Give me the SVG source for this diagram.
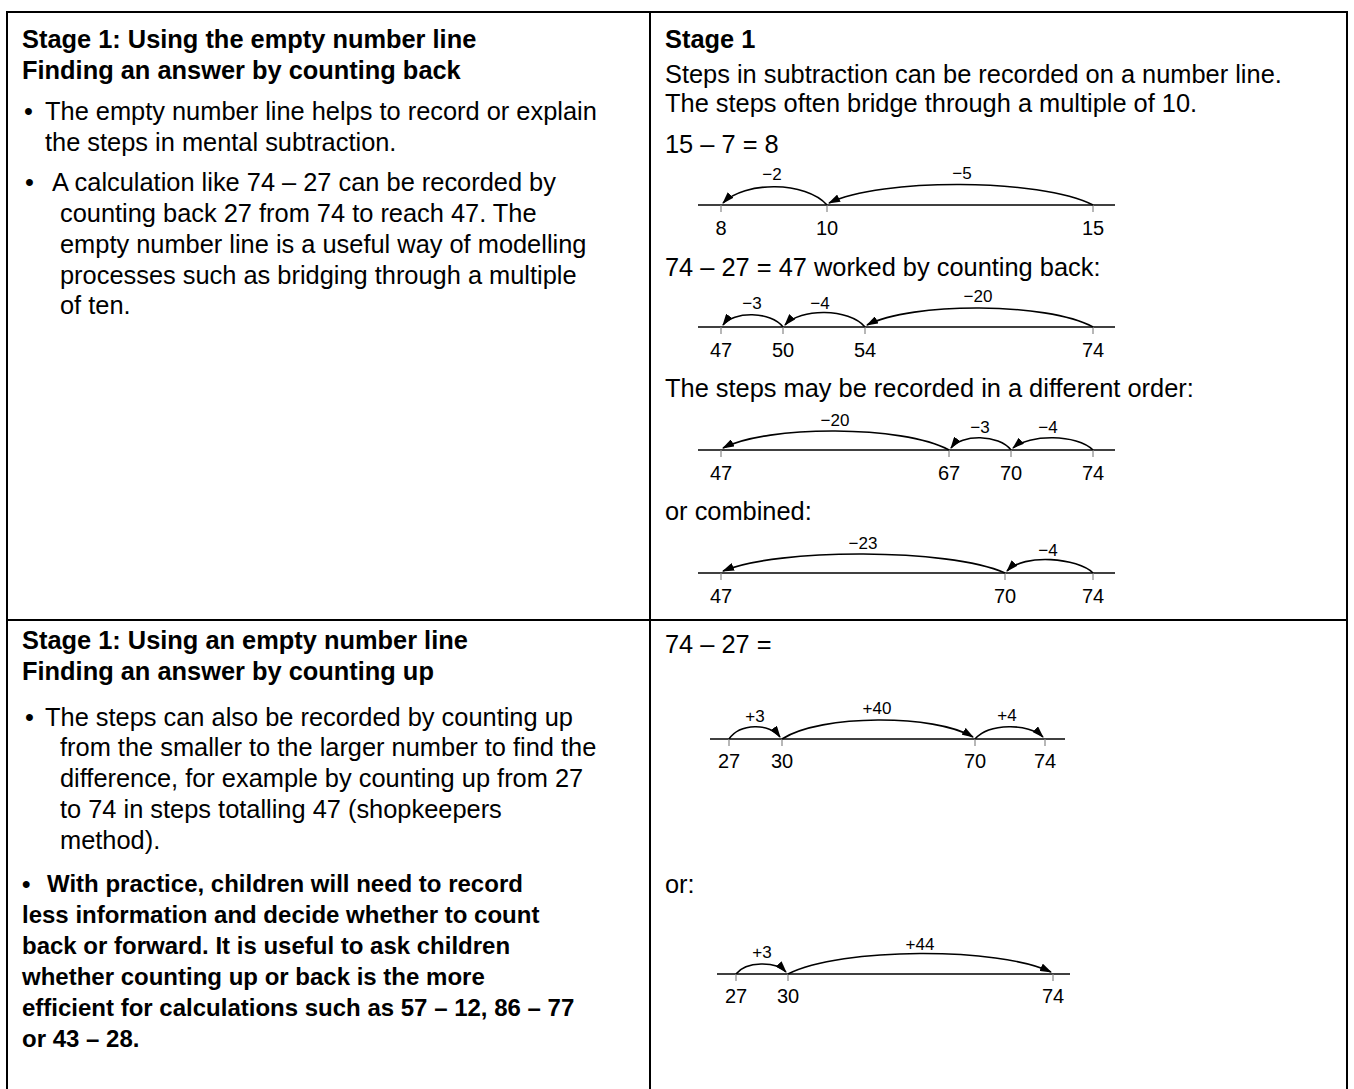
<svg xmlns="http://www.w3.org/2000/svg" width="1354" height="1089" viewBox="0 0 1354 1089">
<defs>
<style>
.t{font-family:"Liberation Sans",Arial,sans-serif;font-size:25.4px;fill:#000}
.b{font-weight:bold}
.bs{font-size:24px}
.n{font-family:"Liberation Sans",Arial,sans-serif;font-size:20px;fill:#000;text-anchor:middle}
.l{font-family:"Liberation Sans",Arial,sans-serif;font-size:17px;fill:#000;text-anchor:middle}
.ax{stroke:#000;stroke-width:1.5;fill:none}
.tk{stroke:#888;stroke-width:1.2}
.arc{stroke:#000;stroke-width:1.6;fill:none;marker-end:url(#ah)}
.bd{stroke:#000;stroke-width:2;fill:none}
</style>
<marker id="ah" markerUnits="userSpaceOnUse" markerWidth="12" markerHeight="8" refX="11" refY="4" orient="auto">
<path d="M0,0 L12,4 L0,8 z" fill="#000"/>
</marker>
</defs>
<rect width="1354" height="1089" fill="#fff"/>
<g id="table">
<path class="bd" d="M7,1089 V12 H1347 V1089 M650,12 V1089 M7,620 H1347"/>
</g>
<g id="cell-top-left">
<text class="t b" x="22" y="48">Stage 1: Using the empty number line</text>
<text class="t b" x="22" y="79">Finding an answer by counting back</text>
<text class="t" x="24" y="120">•</text>
<text class="t" x="45" y="120">The empty number line helps to record or explain</text>
<text class="t" x="45" y="151">the steps in mental subtraction.</text>
<text class="t" x="25" y="191">•</text>
<text class="t" x="52" y="191">A calculation like 74 – 27 can be recorded by</text>
<text class="t" x="60" y="222">counting back 27 from 74 to reach 47. The</text>
<text class="t" x="60" y="253">empty number line is a useful way of modelling</text>
<text class="t" x="60" y="284">processes such as bridging through a multiple</text>
<text class="t" x="60" y="314">of ten.</text>
</g>
<g id="cell-top-right">
<text class="t b" x="665" y="48">Stage 1</text>
<text class="t" x="665" y="83">Steps in subtraction can be recorded on a number line.</text>
<text class="t" x="665" y="112">The steps often bridge through a multiple of 10.</text>
<text class="t" x="665" y="153">15 – 7 = 8</text>
<text class="t" x="665" y="276">74 – 27 = 47 worked by counting back:</text>
<text class="t" x="665" y="397">The steps may be recorded in a different order:</text>
<text class="t" x="665" y="520">or combined:</text>
</g>
<g id="cell-bottom-left">
<text class="t b" x="22" y="649">Stage 1: Using an empty number line</text>
<text class="t b" x="22" y="680">Finding an answer by counting up</text>
<text class="t" x="25" y="726">•</text>
<text class="t" x="45" y="726">The steps can also be recorded by counting up</text>
<text class="t" x="60" y="756">from the smaller to the larger number to find the</text>
<text class="t" x="60" y="787">difference, for example by counting up from 27</text>
<text class="t" x="60" y="818">to 74 in steps totalling 47 (shopkeepers</text>
<text class="t" x="60" y="849">method).</text>
<text class="t b bs" x="22" y="892">•</text>
<text class="t b bs" x="47" y="892">With practice, children will need to record</text>
<text class="t b bs" x="22" y="923">less information and decide whether to count</text>
<text class="t b bs" x="22" y="954">back or forward. It is useful to ask children</text>
<text class="t b bs" x="22" y="985">whether counting up or back is the more</text>
<text class="t b bs" x="22" y="1016">efficient for calculations such as 57 – 12, 86 – 77</text>
<text class="t b bs" x="22" y="1047">or 43 – 28.</text>
</g>
<g id="cell-bottom-right">
<text class="t" x="665" y="653">74 – 27 =</text>
<text class="t" x="665" y="893">or:</text>
</g>
<g id="numberline-1">
<path class="ax" d="M698,205 H1115"/>
<path class="tk" d="M721,205 v7 M827,205 v7 M1093,205 v7"/>
<text class="n" x="721" y="235">8</text>
<text class="n" x="827" y="235">10</text>
<text class="n" x="1093" y="235">15</text>
<text class="l" x="772" y="180">−2</text>
<text class="l" x="962" y="179">−5</text>
</g>
<g id="numberline-2">
<path class="ax" d="M698,327 H1115"/>
<path class="tk" d="M721,327 v7 M783,327 v7 M865,327 v7 M1093,327 v7"/>
<text class="n" x="721" y="357">47</text>
<text class="n" x="783" y="357">50</text>
<text class="n" x="865" y="357">54</text>
<text class="n" x="1093" y="357">74</text>
<text class="l" x="752" y="309">−3</text>
<text class="l" x="820" y="309">−4</text>
<text class="l" x="978" y="302">−20</text>
</g>
<g id="numberline-3">
<path class="ax" d="M698,450 H1115"/>
<path class="tk" d="M721,450 v7 M949,450 v7 M1011,450 v7 M1093,450 v7"/>
<text class="n" x="721" y="480">47</text>
<text class="n" x="949" y="480">67</text>
<text class="n" x="1011" y="480">70</text>
<text class="n" x="1093" y="480">74</text>
<text class="l" x="835" y="426">−20</text>
<text class="l" x="980" y="433">−3</text>
<text class="l" x="1048" y="433">−4</text>
</g>
<g id="numberline-4">
<path class="ax" d="M698,573 H1115"/>
<path class="tk" d="M721,573 v7 M1005,573 v7 M1093,573 v7"/>
<text class="n" x="721" y="603">47</text>
<text class="n" x="1005" y="603">70</text>
<text class="n" x="1093" y="603">74</text>
<text class="l" x="863" y="549">−23</text>
<text class="l" x="1048" y="556">−4</text>
</g>
<g id="numberline-5">
<path class="ax" d="M710,739 H1065"/>
<path class="tk" d="M729,739 v7 M782,739 v7 M975,739 v7 M1045,739 v7"/>
<text class="n" x="729" y="768">27</text>
<text class="n" x="782" y="768">30</text>
<text class="n" x="975" y="768">70</text>
<text class="n" x="1045" y="768">74</text>
<text class="l" x="755" y="722">+3</text>
<text class="l" x="877" y="714">+40</text>
<text class="l" x="1007" y="721">+4</text>
</g>
<g id="numberline-6">
<path class="ax" d="M717,974 H1070"/>
<path class="tk" d="M736,974 v7 M788,974 v7 M1053,974 v7"/>
<text class="n" x="736" y="1003">27</text>
<text class="n" x="788" y="1003">30</text>
<text class="n" x="1053" y="1003">74</text>
<text class="l" x="762" y="958">+3</text>
<text class="l" x="920" y="950">+44</text>
</g>
<g id="connectors">
<path class="arc" d="M827,205 C806,181 744,181 723,203"/>
<path class="arc" d="M1093,205 C1040,178 880,178 829,203"/>
<path class="arc" d="M783,327 C771,311 733,311 723,325"/>
<path class="arc" d="M865,327 C849,308 800,308 785,325"/>
<path class="arc" d="M1093,327 C1047,302 911,302 867,325"/>
<path class="arc" d="M949,450 C903,425 767,425 723,448"/>
<path class="arc" d="M1011,450 C999,434 961,434 951,448"/>
<path class="arc" d="M1093,450 C1077,434 1029,434 1013,448"/>
<path class="arc" d="M1005,573 C948,548 778,548 723,571"/>
<path class="arc" d="M1093,573 C1078,558 1024,553 1007,571"/>
<path class="arc" d="M729,739 C740,723 770,723 780,737"/>
<path class="arc" d="M782,739 C821,714 935,714 973,737"/>
<path class="arc" d="M975,739 C989,723 1029,723 1043,737"/>
<path class="arc" d="M736,974 C746,961 776,961 786,972"/>
<path class="arc" d="M788,974 C841,947 999,947 1051,972"/>
</g>
</svg>
